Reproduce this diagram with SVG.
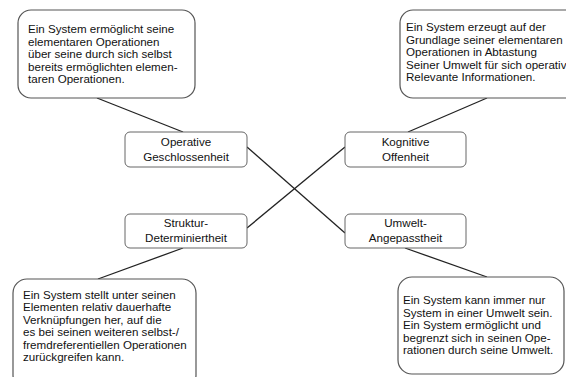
<svg xmlns="http://www.w3.org/2000/svg" width="566" height="377" viewBox="0 0 566 377">
<style>
.bubble{fill:#fff;stroke:#555;stroke-width:1.2}
.node{fill:#fff;stroke:#666;stroke-width:1}
.t{font-family:"Liberation Sans",Arial,sans-serif;font-size:11.6px;fill:#111}
.c{text-anchor:middle}
.line{stroke:#222;stroke-width:1.3;fill:none}
</style>
<rect width="566" height="377" fill="#fff"/>
<g id="connectors">
<line class="line" x1="97" y1="98" x2="183" y2="132"/>
<line class="line" x1="408" y1="132" x2="487" y2="98"/>
<line class="line" x1="183" y1="248" x2="98" y2="279"/>
<line class="line" x1="405" y1="248" x2="487" y2="277"/>
<line class="line" x1="247" y1="147" x2="345" y2="233"/>
<line class="line" x1="247" y1="228" x2="345" y2="147"/>
</g>
<g id="bubble-tl">
<rect class="bubble" x="18" y="10" width="177" height="88" rx="13"/>
<text class="t" x="28" y="33">Ein System ermöglicht seine</text>
<text class="t" x="28" y="45.5">elementaren Operationen</text>
<text class="t" x="28" y="58">über seine durch sich selbst</text>
<text class="t" x="28" y="70.5">bereits ermöglichten elemen-</text>
<text class="t" x="28" y="83">taren Operationen.</text>
</g>
<g id="bubble-tr">
<rect class="bubble" x="400" y="10" width="190" height="88" rx="13"/>
<text class="t" x="406" y="31">Ein System erzeugt auf der</text>
<text class="t" x="406" y="43.5">Grundlage seiner elementaren</text>
<text class="t" x="406" y="56">Operationen in Abtastung</text>
<text class="t" x="406" y="68.5">Seiner Umwelt für sich operativ</text>
<text class="t" x="406" y="81">Relevante Informationen.</text>
</g>
<g id="bubble-bl">
<rect class="bubble" x="13" y="279" width="183" height="110" rx="14"/>
<text class="t" x="23" y="298.5">Ein System stellt unter seinen</text>
<text class="t" x="23" y="311">Elementen relativ dauerhafte</text>
<text class="t" x="23" y="323.5">Verknüpfungen her, auf die</text>
<text class="t" x="23" y="336">es bei seinen weiteren selbst-/</text>
<text class="t" x="23" y="348.5">fremdreferentiellen Operationen</text>
<text class="t" x="23" y="361">zurückgreifen kann.</text>
</g>
<g id="bubble-br">
<rect class="bubble" x="398" y="277" width="166" height="97" rx="14"/>
<text class="t" x="403" y="304">Ein System kann immer nur</text>
<text class="t" x="403" y="316.5">System in einer Umwelt sein.</text>
<text class="t" x="403" y="329">Ein System ermöglicht und</text>
<text class="t" x="403" y="341.5">begrenzt sich in seinen Ope-</text>
<text class="t" x="403" y="354">rationen durch seine Umwelt.</text>
</g>
<g id="node-operative">
<rect class="node" x="125" y="132" width="122" height="35" rx="5"/>
<text class="t c" x="186" y="146">Operative</text>
<text class="t c" x="186" y="161">Geschlossenheit</text>
</g>
<g id="node-kognitive">
<rect class="node" x="345" y="132" width="121" height="35" rx="5"/>
<text class="t c" x="405.5" y="146">Kognitive</text>
<text class="t c" x="405.5" y="161">Offenheit</text>
</g>
<g id="node-struktur">
<rect class="node" x="125" y="214" width="122" height="34" rx="5"/>
<text class="t c" x="186" y="227">Struktur-</text>
<text class="t c" x="186" y="242">Determiniertheit</text>
</g>
<g id="node-umwelt">
<rect class="node" x="345" y="214" width="121" height="34" rx="5"/>
<text class="t c" x="405.5" y="227">Umwelt-</text>
<text class="t c" x="405.5" y="242">Angepasstheit</text>
</g>
</svg>
